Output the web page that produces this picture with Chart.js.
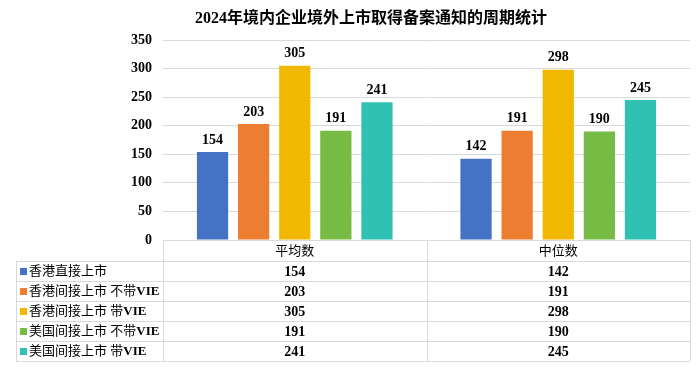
<!DOCTYPE html>
<html>
<head>
<meta charset="utf-8">
<script src="https://cdn.jsdelivr.net/npm/chart.js@4"></script>
<style>
  html, body { margin: 0; padding: 0; background: #fff; }
  #wrap { width: 700px; height: 367px; }
</style>
</head>
<body>
<div id="wrap"><canvas id="cycleChart" width="700" height="367"></canvas></div>
<script>
// chart data
const titleText = '2024年境内企业境外上市取得备案通知的周期统计';
const categories = ['平均数', '中位数'];
const seriesNames = ['香港直接上市', '香港间接上市 不带VIE', '香港间接上市 带VIE', '美国间接上市 不带VIE', '美国间接上市 带VIE'];
const hkDirect = [154, 142];
const hkIndirectNoVie = [203, 191];
const hkIndirectVie = [305, 298];
const usIndirectNoVie = [191, 190];
const usIndirectVie = [241, 245];
const yMax = 350;
const yStep = 50;

const seriesValues = [hkDirect, hkIndirectNoVie, hkIndirectVie, usIndirectNoVie, usIndirectVie];
const seriesColors = ['#4472C4', '#ED7D31', '#F2B800', '#76BB44', '#30C1B3'];

const serifFont = "'Liberation Serif', 'Times New Roman', 'Noto Sans CJK SC', serif";
const lineColor = '#d9d9d9';

// title, value labels and the data table below the plot
const extrasPlugin = {
    id: 'extras',
    afterDatasetsDraw(chart) {
        const ctx = chart.ctx;
        ctx.save();
        ctx.fillStyle = '#000';
        ctx.font = 'bold 14px ' + serifFont;
        ctx.textAlign = 'center';
        ctx.textBaseline = 'bottom';
        chart.data.datasets.forEach((ds, i) => {
            chart.getDatasetMeta(i).data.forEach((bar, j) => {
                ctx.fillText(String(ds.data[j]), bar.x, bar.y - 5);
            });
        });
        ctx.restore();
    },
    afterDraw(chart) {
        const ctx = chart.ctx;
        const area = chart.chartArea;
        const xs = chart.scales.x;
        ctx.save();

        // title
        ctx.fillStyle = '#000';
        ctx.font = 'bold 16px ' + serifFont;
        ctx.textAlign = 'center';
        ctx.textBaseline = 'middle';
        ctx.fillText(titleText, 371, 19);

        // table grid
        const tableLeft = 16;
        const headTop = area.bottom;
        const rowH = 20;
        const headBottom = headTop + 21;
        const mid = (area.left + area.right) / 2;
        const bottom = headBottom + rowH * seriesNames.length;
        ctx.strokeStyle = lineColor;
        ctx.lineWidth = 1;
        ctx.beginPath();
        for (let r = 0; r <= seriesNames.length; r++) {
            const y = Math.round(headBottom + r * rowH) + 0.5;
            ctx.moveTo(tableLeft, y);
            ctx.lineTo(area.right, y);
        }
        [area.left, mid, area.right].forEach(x => {
            x = Math.round(x) + 0.5;
            ctx.moveTo(x, headTop);
            ctx.lineTo(x, bottom);
        });
        ctx.moveTo(tableLeft + 0.5, headBottom);
        ctx.lineTo(tableLeft + 0.5, bottom);
        ctx.stroke();

        // header
        ctx.font = '13px ' + serifFont;
        categories.forEach((c, j) => {
            ctx.fillText(c, xs.getPixelForValue(j), (headTop + headBottom) / 2 + 1);
        });

        // rows
        seriesNames.forEach((name, i) => {
            const yc = headBottom + i * rowH + rowH / 2 + 1;
            ctx.fillStyle = seriesColors[i];
            ctx.fillRect(20, yc - 4, 7, 7);
            ctx.fillStyle = '#000';
            ctx.textAlign = 'left';
            ctx.font = '13px ' + serifFont;
            const parts = name.split('VIE');
            ctx.fillText(parts[0], 29, yc);
            if (name.indexOf('VIE') >= 0) {
                const w = ctx.measureText(parts[0]).width;
                ctx.font = 'bold 13px ' + serifFont;
                ctx.fillText('VIE', 29 + w, yc);
            }
            ctx.textAlign = 'center';
            ctx.font = 'bold 14px ' + serifFont;
            seriesValues[i].forEach((v, j) => {
                ctx.fillText(String(v), xs.getPixelForValue(j), yc);
            });
        });
        ctx.restore();
    }
};

const ctx = document.getElementById('cycleChart').getContext('2d');
const cycleChart = new Chart(ctx, {
    type: 'bar',
    data: {
        labels: categories,
        datasets: seriesNames.map((name, i) => ({
            label: name,
            data: seriesValues[i],
            backgroundColor: seriesColors[i],
            categoryPercentage: 0.78,
            barPercentage: 0.76
        }))
    },
    options: {
        responsive: false,
        animation: false,
        layout: { padding: { top: 40, bottom: 127, left: 0, right: 10 } },
        plugins: {
            legend: { display: false },
            title: { display: false },
            tooltip: { enabled: false }
        },
        scales: {
            x: { display: false },
            y: {
                min: 0,
                max: yMax,
                afterFit(scale) { scale.width = 163; },
                ticks: {
                    stepSize: yStep,
                    color: '#000',
                    padding: 11,
                    font: { family: serifFont, size: 14, weight: 'bold' }
                },
                grid: { color: lineColor, drawTicks: false },
                border: { display: false }
            }
        }
    },
    plugins: [extrasPlugin]
});
</script>
</body>
</html>
